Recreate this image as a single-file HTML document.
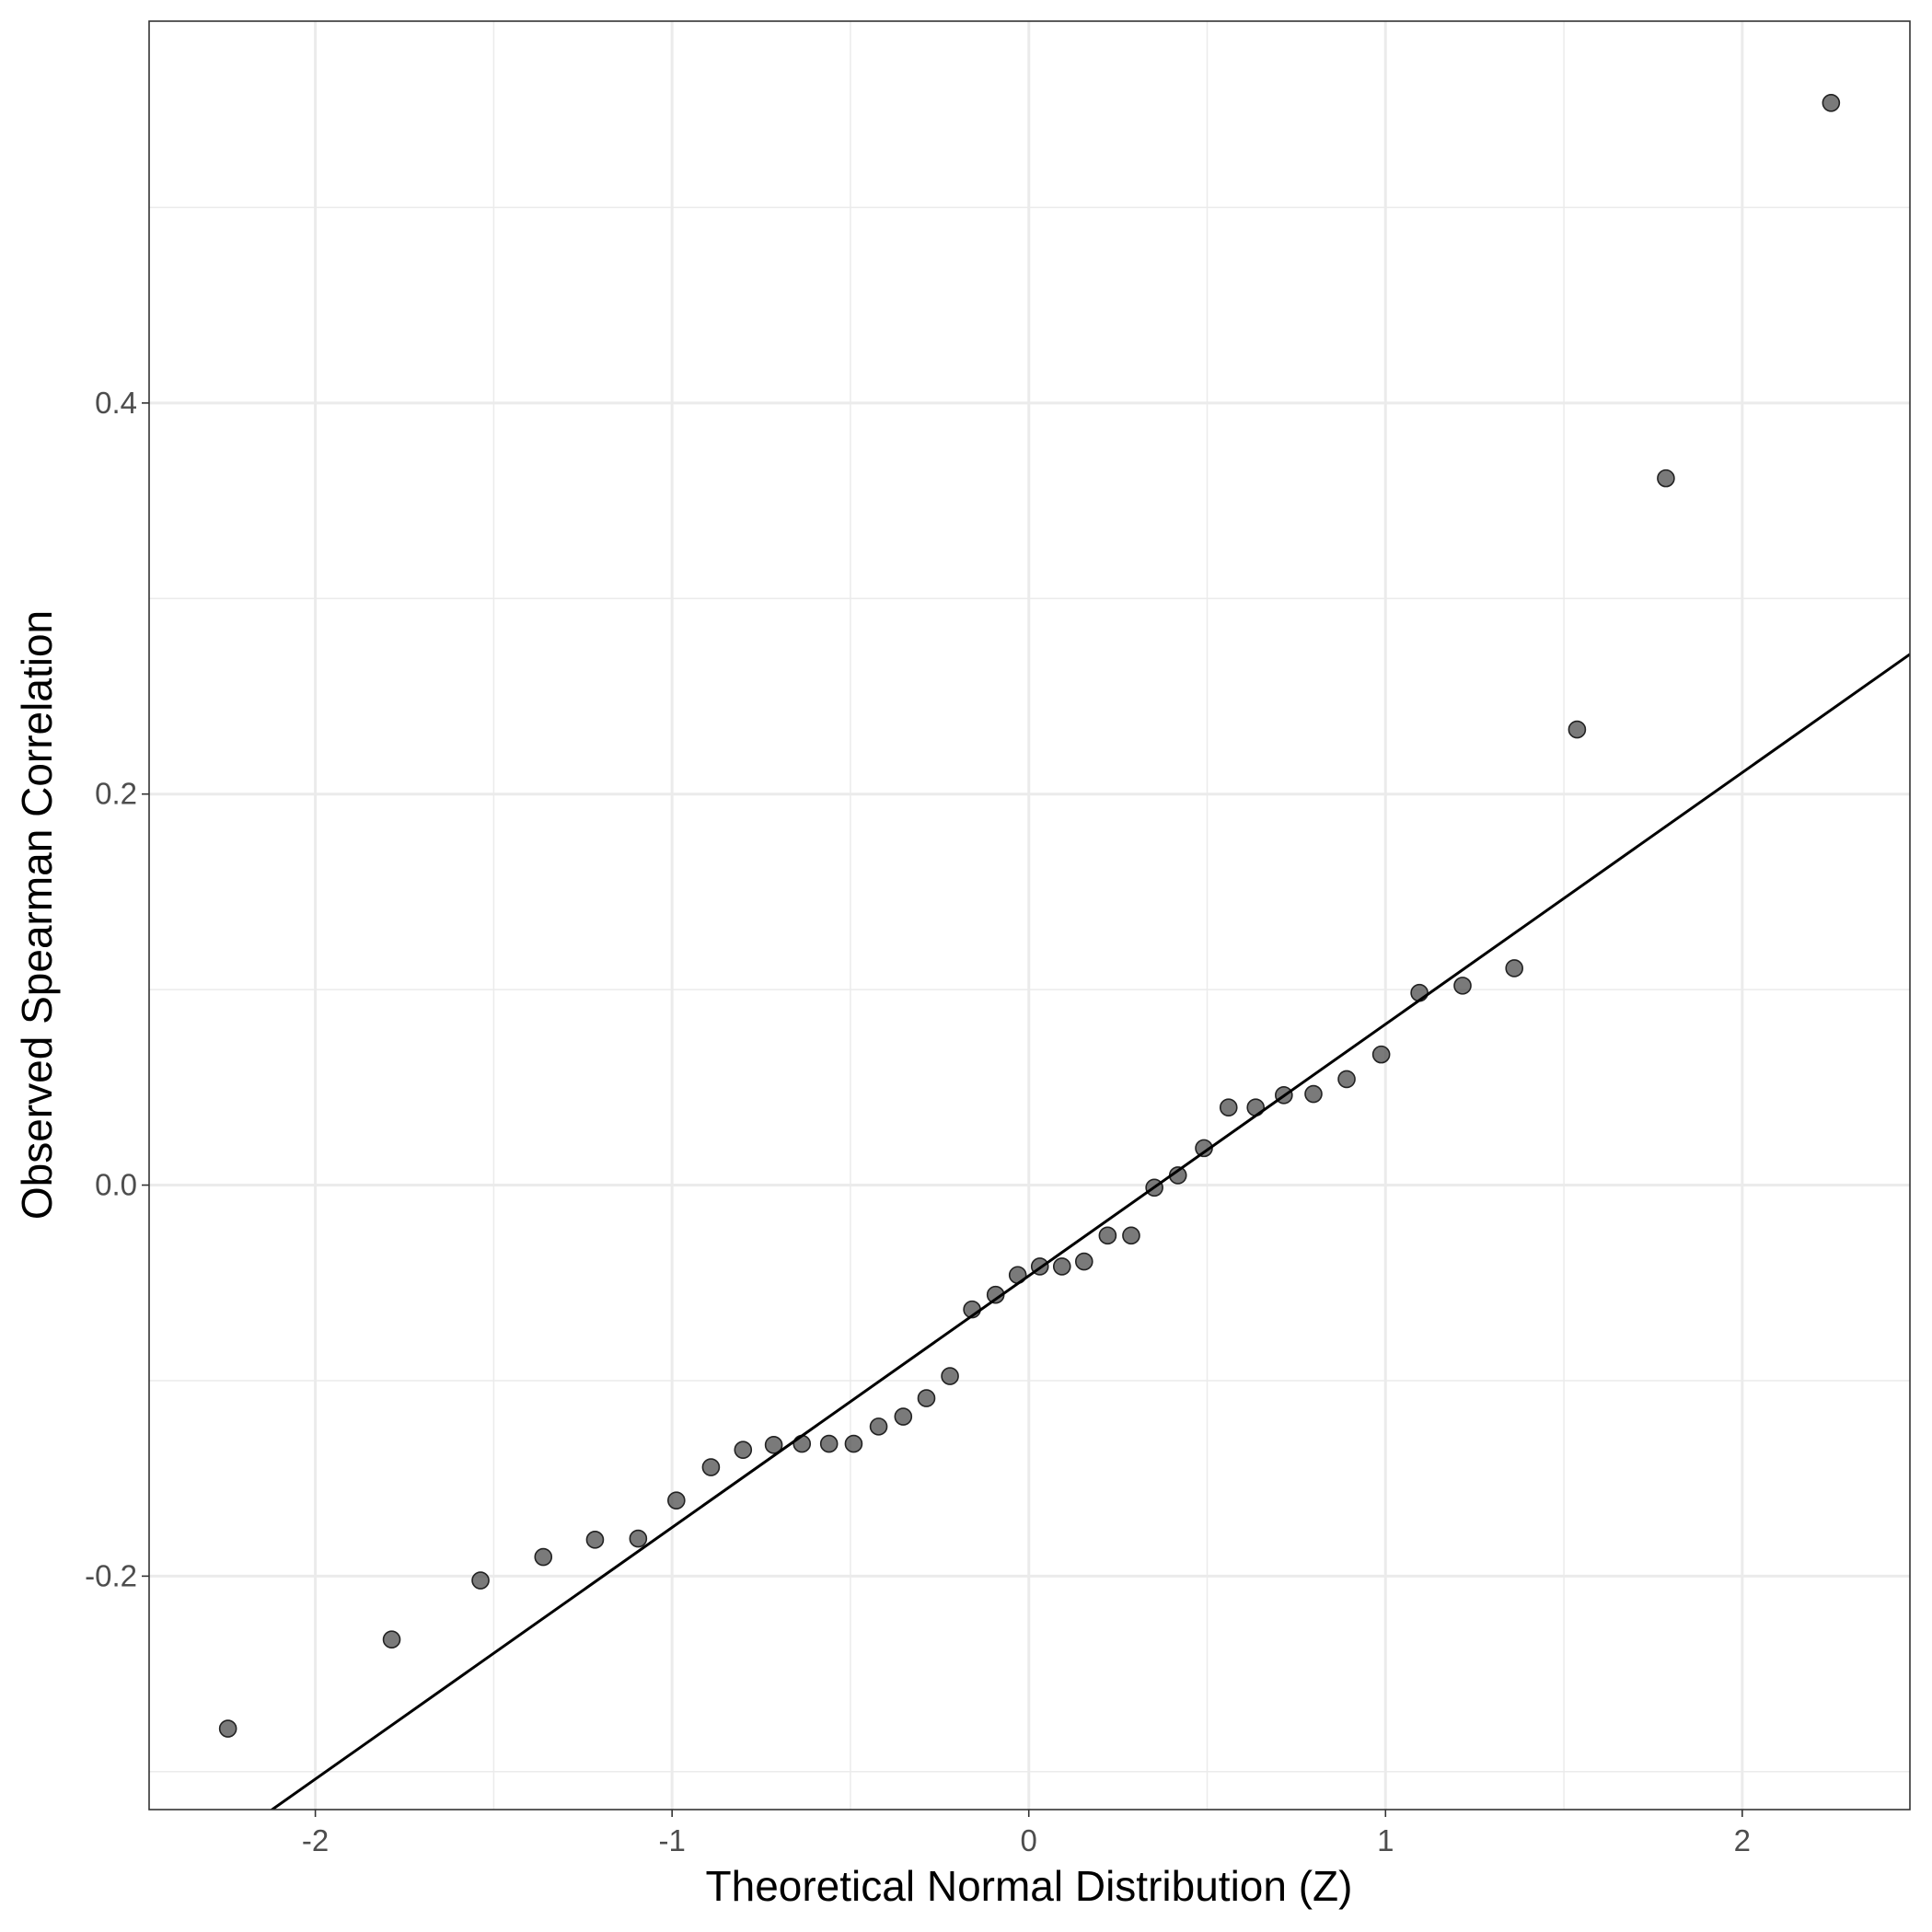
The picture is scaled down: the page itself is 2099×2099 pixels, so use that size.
<!DOCTYPE html>
<html><head><meta charset="utf-8"><style>
html,body{margin:0;padding:0;background:#fff;}
svg{display:block;font-family:"Liberation Sans",Arial,sans-serif;}
</style></head><body>
<svg id="chart" width="2099" height="2099" viewBox="0 0 2099 2099" xmlns="http://www.w3.org/2000/svg">
<rect width="2099" height="2099" fill="#fff"/>
<g id="grid"></g>
<g id="marks"></g>
<rect x="162" y="23" width="1913" height="1943" fill="none" stroke="#333" stroke-width="1.6"/>
<g id="axes"></g>
<text x="1118" y="2065" font-size="46" text-anchor="middle" fill="#000">Theoretical Normal Distribution (Z)</text>
<text transform="translate(56,994) rotate(-90)" font-size="46" text-anchor="middle" fill="#000">Observed Spearman Correlation</text>
</svg>
<script>
const theoreticalZ = [-2.245,-1.786,-1.537,-1.361,-1.216,-1.095,-0.988,-0.891,-0.801,-0.715,-0.636,-0.560,-0.491,-0.421,-0.352,-0.287,-0.221,-0.159,-0.093,-0.031,0.031,0.093,0.155,0.221,0.287,0.352,0.418,0.491,0.560,0.636,0.715,0.798,0.891,0.988,1.095,1.216,1.361,1.537,1.786,2.249];
const observedRho = [-0.278,-0.2324,-0.2022,-0.1902,-0.1814,-0.1808,-0.1613,-0.1443,-0.1354,-0.1329,-0.1323,-0.1323,-0.1323,-0.1235,-0.1184,-0.1090,-0.0977,-0.0636,-0.0561,-0.0460,-0.0416,-0.0416,-0.0391,-0.0258,-0.0258,-0.0013,0.0050,0.0189,0.0397,0.0397,0.0460,0.0466,0.0542,0.0668,0.0983,0.1020,0.1109,0.2330,0.3615,0.5535];
const refLine = [-0.0464, 0.1287]; // intercept, slope
const xTicks = [-2,-1,0,1,2];
const xTickLabels = ["-2","-1","0","1","2"];
const yTicks = [-0.2,0,0.2,0.4];
const yTickLabels = ["-0.2","0.0","0.2","0.4"];
const xMinor = [-1.5,-0.5,0.5,1.5];
const yMinor = [-0.3,-0.1,0.1,0.3,0.5];

const L=162,R=2075,T=23,B=1966;
const xMin=-2.466,xMax=2.470,yMin=-0.3194,yMax=0.5953;
const sx=v=>L+(v-xMin)/(xMax-xMin)*(R-L);
const sy=v=>B-(v-yMin)/(yMax-yMin)*(B-T);
const NS="http://www.w3.org/2000/svg";
function mk(tag,attrs,parent){const e=document.createElementNS(NS,tag);for(const k in attrs)e.setAttribute(k,attrs[k]);parent.appendChild(e);return e;}
const grid=document.getElementById('grid'),marks=document.getElementById('marks'),axes=document.getElementById('axes');
xMinor.forEach(v=>{const e=mk('line',{x1:sx(v),x2:sx(v),y1:T,y2:B,stroke:'#ebebeb','stroke-width':1.5},grid);

});
yMinor.forEach(v=>{const e=mk('line',{x1:L,x2:R,y1:sy(v),y2:sy(v),stroke:'#ebebeb','stroke-width':1.5},grid);

});
xTicks.forEach((v,i)=>{const e=mk('line',{x1:sx(v),x2:sx(v),y1:T,y2:B,stroke:'#ebebeb','stroke-width':3},grid);


const t=mk('line',{x1:sx(v),x2:sx(v),y1:B,y2:B+8,stroke:'#333','stroke-width':1.6},axes);


const l=mk('text',{x:sx(v),y:B+45,'font-size':33,'text-anchor':'middle',fill:'#4d4d4d'},axes);l.textContent=xTickLabels[i];

});
yTicks.forEach((v,i)=>{const e=mk('line',{x1:L,x2:R,y1:sy(v),y2:sy(v),stroke:'#ebebeb','stroke-width':3},grid);


const t=mk('line',{x1:L-8,x2:L,y1:sy(v),y2:sy(v),stroke:'#333','stroke-width':1.6},axes);


const l=mk('text',{x:L-13,y:sy(v)+11,'font-size':33,'text-anchor':'end',fill:'#4d4d4d'},axes);l.textContent=yTickLabels[i];

});
theoreticalZ.forEach((z,i)=>{const c=mk('circle',{cx:sx(z),cy:sy(observedRho[i]),r:9,fill:'rgba(70,70,70,0.72)',stroke:'#222','stroke-width':1.6},marks);

});
const cp=document.createElementNS(NS,'clipPath');cp.setAttribute('id','pc');mk('rect',{x:L,y:T,width:R-L,height:B-T},cp);document.getElementById('chart').appendChild(cp);
const ln=mk('line',{x1:sx(xMin),y1:sy(refLine[0]+refLine[1]*xMin),x2:sx(xMax),y2:sy(refLine[0]+refLine[1]*xMax),stroke:'#000','stroke-width':3,'clip-path':'url(#pc)'},marks);


</script>
</body></html>
